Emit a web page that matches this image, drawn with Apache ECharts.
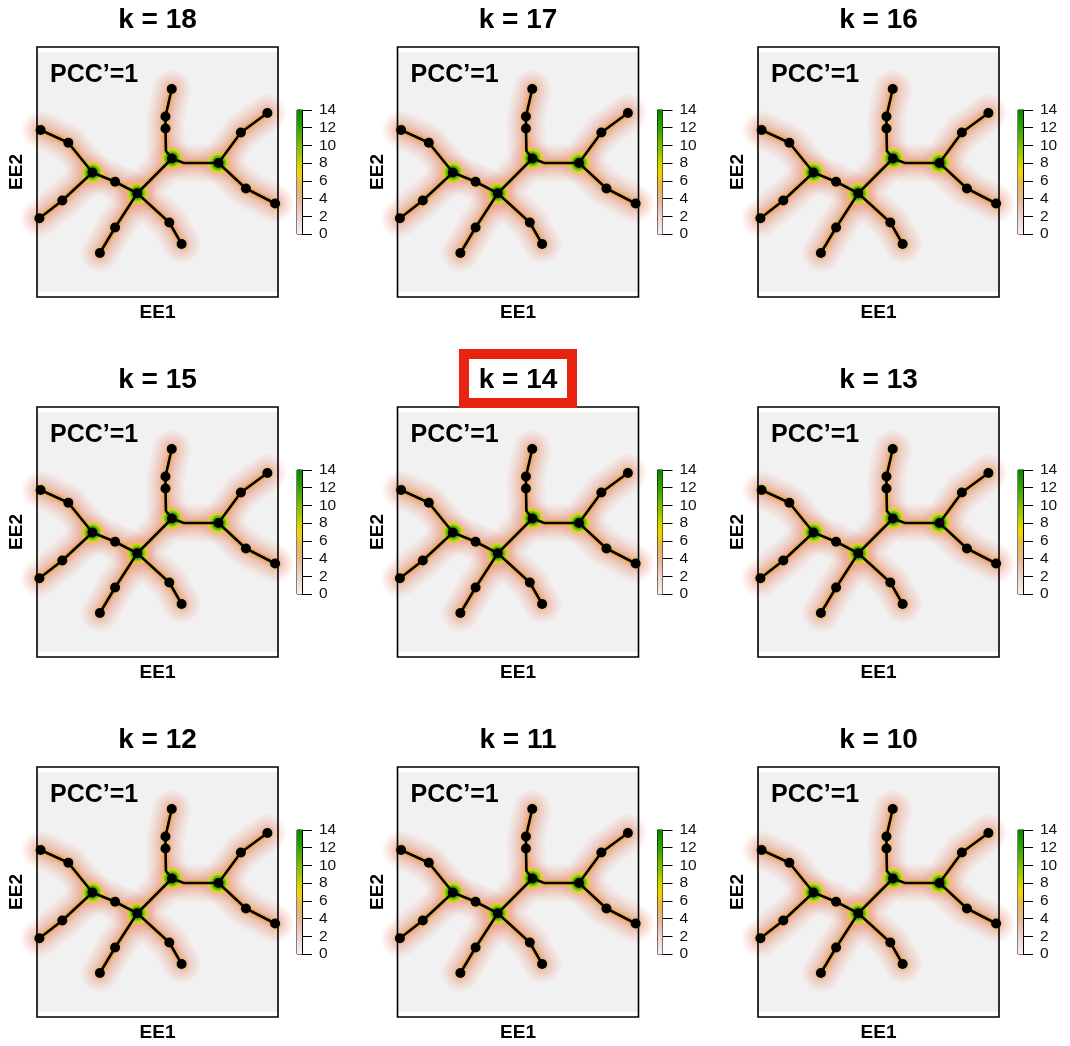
<!DOCTYPE html>
<html>
<head>
<meta charset="utf-8">
<script src="https://cdn.jsdelivr.net/npm/echarts@6/dist/echarts.min.js"></script>
<style>
html,body{margin:0;padding:0;background:#ffffff;}
#c{width:1070px;height:1046px;}
</style>
</head>
<body>
<div id="c"></div>
<script>
// ---------------- data ----------------
const kValues = [18, 17, 16, 15, 14, 13, 12, 11, 10];
const highlightK = 14;
const pccLabel = "PCC\u2019=1";
const xAxisName = "EE1";
const yAxisName = "EE2";

// tree nodes in embedding coordinates (EE1, EE2), scaled 0..100
const nodeNames = ["T1","T2","T3","bA","A","bAB","B","R1","R2","R3","R4","C","C1","D","L1","L2","L3","L4","S1","S2","S3","S4"];
const nodeX     = [55.9, 53.3, 53.3, 53.5, 56.0, 61.0, 75.3, 84.6, 95.6, 86.7, 98.8, 41.6, 32.4, 23.0, 13.0, 1.5, 10.5, 1.0, 54.9, 60.0, 32.4, 26.1];
const nodeY     = [83.2, 72.2, 67.4, 58.4, 55.4, 53.6, 53.6, 65.8, 73.6, 43.4, 37.4, 41.5, 46.1, 49.8, 61.7, 66.8, 38.6, 31.5, 29.8, 21.2, 27.8, 17.6];
const nodeIsBend= [0,0,0,1,0,1,0,0,0,0,0,0,0,0,0,0,0,0,0,0,0,0];
// tree branches (paths through the nodes above)
const branches = [
  ["T1","T2","T3","bA","A","bAB","B","R1","R2"],
  ["B","R3","R4"],
  ["A","C","S1","S2"],
  ["C","S3","S4"],
  ["C","C1","D","L1","L2"],
  ["D","L3","L4"]
];
const colorbarTicks = [0, 2, 4, 6, 8, 10, 12, 14];
const colorbarMax = 14;

// ---------------- layout / style ----------------
const COL_X = [37, 397.5, 758];
const ROW_Y = [47, 407, 767];
const BOX_W = 241, BOX_H = 250;
const IMG_Y = [2, 98];
const FONT = "'Liberation Sans', Arial, Helvetica, sans-serif";

const idx = {};
nodeNames.forEach((n, i) => idx[n] = i);
const pt = n => [nodeX[idx[n]], nodeY[idx[n]]];
const branchData = branches.map(b => ({ coords: b.map(pt) }));
const degree = nodeNames.map(() => 0);
branches.forEach(b => b.forEach((n, j) => {
  if (j > 0) degree[idx[n]]++;
  if (j < b.length - 1) degree[idx[n]]++;
}));
const dotData = [], hubData = [], minorData = [];
nodeNames.forEach((n, i) => {
  if (nodeIsBend[i]) return;
  const p = [nodeX[i], nodeY[i]];
  dotData.push(p);
  if (degree[i] >= 3) hubData.push(p); else minorData.push(p);
});

const cbGradient = {
  type: 'linear', x: 0, y: 1, x2: 0, y2: 0,
  colorStops: [
    { offset: 0.00, color: '#f8f2f2' },
    { offset: 0.14, color: '#efd3cb' },
    { offset: 0.28, color: '#e9b592' },
    { offset: 0.40, color: '#e7b84c' },
    { offset: 0.50, color: '#ecd800' },
    { offset: 0.60, color: '#bcd000' },
    { offset: 0.72, color: '#78bb00' },
    { offset: 0.86, color: '#36a100' },
    { offset: 1.00, color: '#078600' }
  ]
};
const hubGradient = {
  type: 'radial', x: 0.5, y: 0.5, r: 0.5,
  colorStops: [
    { offset: 0.0, color: 'rgba(30,150,0,1)' },
    { offset: 0.45, color: 'rgba(80,180,0,1)' },
    { offset: 0.62, color: 'rgba(190,220,0,0.85)' },
    { offset: 0.80, color: 'rgba(240,205,50,0.35)' },
    { offset: 1.0, color: 'rgba(240,190,150,0)' }
  ]
};
const minorGradient = {
  type: 'radial', x: 0.5, y: 0.5, r: 0.5,
  colorStops: [
    { offset: 0.0, color: 'rgba(230,215,0,1)' },
    { offset: 0.55, color: 'rgba(238,200,30,0.7)' },
    { offset: 1.0, color: 'rgba(240,190,150,0)' }
  ]
};
// soft halo: many thin transparent layers for a smooth falloff
const haloWidths = [38, 33, 28, 24, 20, 16, 13, 10];
const haloAlpha  = [0.08, 0.09, 0.10, 0.11, 0.12, 0.13, 0.14, 0.15];

const grids = [], xAxes = [], yAxes = [], series = [], graphics = [];

kValues.forEach((k, p) => {
  const c = p % 3, r = Math.floor(p / 3);
  const bx = COL_X[c], by = ROW_Y[r];
  const gi = 2 * p, ci = 2 * p + 1;

  grids.push({ left: bx, top: by, width: BOX_W, height: BOX_H, show: true, backgroundColor: '#ffffff', borderWidth: 0 });
  xAxes.push({ gridIndex: gi, type: 'value', min: 0, max: 100, show: false });
  yAxes.push({ gridIndex: gi, type: 'value', min: 0, max: 100, show: false });

  grids.push({ left: bx + 260, top: by + 63, width: 5, height: 124, show: true, backgroundColor: 'transparent', borderColor: '#000', borderWidth: 1 });
  xAxes.push({ gridIndex: ci, type: 'category', data: ['d'], show: false });
  yAxes.push({
    gridIndex: ci, type: 'value', min: 0, max: colorbarMax, interval: 2, position: 'right',
    axisLine: { show: true, lineStyle: { color: '#000', width: 1 } },
    axisTick: { show: true, length: 10, lineStyle: { color: '#000', width: 1 } },
    axisLabel: { fontSize: 15.5, color: '#111', margin: 17, fontFamily: FONT,
      formatter: v => colorbarTicks.indexOf(v) >= 0 ? String(v) : '' },
    splitLine: { show: false }
  });

  const ax = { xAxisIndex: gi, yAxisIndex: gi, silent: true, animation: false };

  series.push(Object.assign({
    type: 'scatter', data: [], z: 1,
    markArea: { silent: true, itemStyle: { color: '#f1f1f1', opacity: 1 },
      data: [[{ coord: [0, IMG_Y[0]] }, { coord: [100, IMG_Y[1]] }]] }
  }, ax));

  haloWidths.forEach((w, j) => {
    const col = 'rgba(236,165,145,' + haloAlpha[j] + ')';
    series.push(Object.assign({
      type: 'lines', coordinateSystem: 'cartesian2d', polyline: true, data: branchData, z: 2 + j * 0.05,
      lineStyle: { width: w, color: col, cap: 'round', join: 'round', opacity: 1, shadowBlur: 6, shadowColor: col }
    }, ax));
  });
  // warm fringe right next to the skeleton
  series.push(Object.assign({
    type: 'lines', coordinateSystem: 'cartesian2d', polyline: true, data: branchData, z: 2.6,
    lineStyle: { width: 6.5, color: 'rgba(238,170,70,0.6)', cap: 'round', join: 'round', opacity: 1, shadowBlur: 3, shadowColor: 'rgba(238,170,70,0.6)' }
  }, ax));

  series.push(Object.assign({
    type: 'scatter', data: minorData, symbol: 'circle', symbolSize: 15, z: 3,
    itemStyle: { color: minorGradient, opacity: 1 }
  }, ax));
  series.push(Object.assign({
    type: 'scatter', data: hubData, symbol: 'circle', symbolSize: 27, z: 3.5,
    itemStyle: { color: hubGradient, opacity: 1 }
  }, ax));

  series.push(Object.assign({
    type: 'lines', coordinateSystem: 'cartesian2d', polyline: true, data: branchData, z: 5,
    lineStyle: { width: 2.6, color: '#000', cap: 'round', join: 'round', opacity: 1 }
  }, ax));
  series.push(Object.assign({
    type: 'scatter', data: dotData, symbol: 'circle', symbolSize: 10, z: 6,
    itemStyle: { color: '#000', opacity: 1 }
  }, ax));

  series.push({
    type: 'bar', xAxisIndex: ci, yAxisIndex: ci, data: [colorbarMax], barWidth: '100%',
    itemStyle: { color: cbGradient }, silent: true, animation: false, z: 1
  });

  // panel border
  graphics.push({ type: 'rect', z: 50, silent: true,
    shape: { x: bx, y: by, width: BOX_W, height: BOX_H },
    style: { fill: null, stroke: '#000', lineWidth: 1.6 } });

  // title
  const cx = bx + BOX_W / 2;
  if (k === highlightK) {
    graphics.push({ type: 'rect', z: 60, silent: true,
      shape: { x: cx - 54, y: by - 53, width: 108, height: 49 },
      style: { fill: '#fff', stroke: '#e8230f', lineWidth: 10 } });
  }
  graphics.push({ type: 'text', z: 70, silent: true, x: cx, y: by - 27,
    style: { text: 'k = ' + k, font: 'bold 28px ' + FONT, fill: '#000', textAlign: 'center', textVerticalAlign: 'middle' } });
  graphics.push({ type: 'text', z: 70, silent: true, x: bx + 13, y: by + 28,
    style: { text: pccLabel, font: 'bold 25px ' + FONT, fill: '#000', textAlign: 'left', textVerticalAlign: 'middle' } });
  graphics.push({ type: 'text', z: 70, silent: true, x: cx, y: by + BOX_H + 16,
    style: { text: xAxisName, font: 'bold 19px ' + FONT, fill: '#000', textAlign: 'center', textVerticalAlign: 'middle' } });
  graphics.push({ type: 'text', z: 70, silent: true, x: bx - 20, y: by + BOX_H / 2, rotation: Math.PI / 2,
    style: { text: yAxisName, font: 'bold 19px ' + FONT, fill: '#000', textAlign: 'center', textVerticalAlign: 'middle' } });
});

const chart = echarts.init(document.getElementById('c'), null, { renderer: 'canvas' });
chart.setOption({
  animation: false,
  backgroundColor: '#ffffff',
  grid: grids,
  xAxis: xAxes,
  yAxis: yAxes,
  series: series,
  graphic: graphics
});
</script>
</body>
</html>
